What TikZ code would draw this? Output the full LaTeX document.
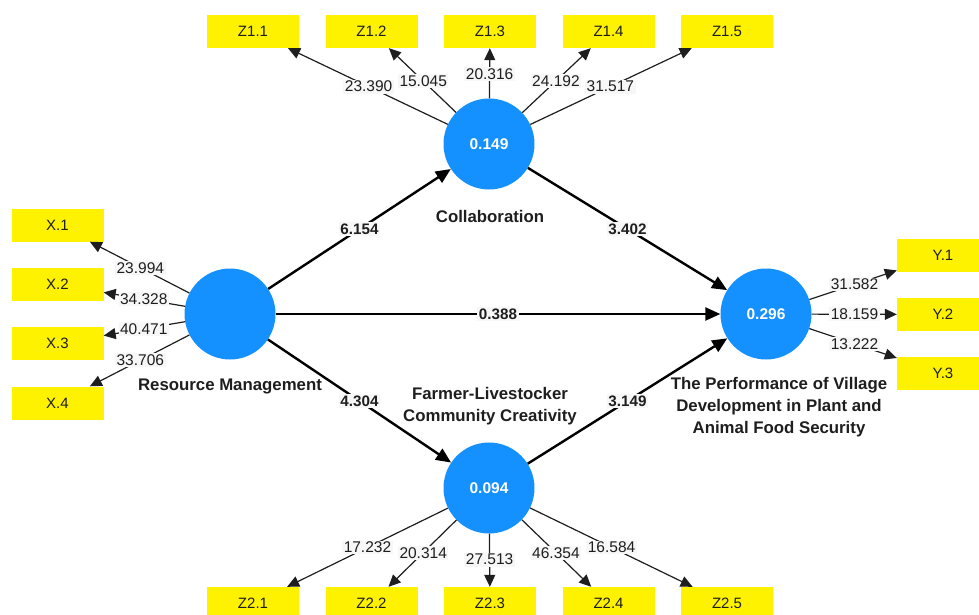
\documentclass[tikz,border=0pt]{standalone}
\usepackage{fontspec}
\setmainfont{Liberation Sans}
\usetikzlibrary{arrows.meta,calc}
\definecolor{plsblue}{RGB}{20,144,255}
\definecolor{labbg}{RGB}{247,247,247}
\definecolor{ink}{RGB}{30,30,30}
\begin{document}
\begin{tikzpicture}[x=1pt,y=-1pt,
  lv/.style={circle,fill=plsblue,minimum size=91pt,inner sep=0pt,text=white,font=\bfseries\fontsize{15.5}{18}\selectfont},
  ind/.style={rectangle,fill=yellow,minimum width=92pt,minimum height=33pt,inner sep=0pt,text=ink,font=\fontsize{15}{18}\selectfont},
  outer/.style={draw=ink,line width=1.2pt,-{Triangle[length=12pt,width=11pt]}},
  inner/.style={draw=black,line width=2.4pt,-{Triangle[length=15pt,width=13pt]}},
  olab/.style={fill=labbg,inner sep=1.5pt,text=ink,font=\fontsize{15.5}{18}\selectfont},
  ilab/.style={fill=labbg,inner sep=1.5pt,text=ink,font=\bfseries\fontsize{15.2}{18}\selectfont},
  lvname/.style={align=center,text=ink,font=\bfseries\fontsize{16.8}{22}\selectfont}]
\useasboundingbox (0,0) rectangle (979,615);
\clip (0,0) rectangle (979,615);

% latent variables
\node[lv] (rm) at (230,314) {};
\node[lv] (coll) at (489,144) {0.149};
\node[lv] (flc) at (489,488) {0.094};
\node[lv] (perf) at (766,314) {0.296};

% names
\node[lvname] (rmname) at (230,386) {Resource Management};
\node[lvname] (collname) at (490,216) {Collaboration};
\node[lvname] (flcname) at (490,406) {Farmer-Livestocker\\Community Creativity};
\node[lvname] (perfname) at (779,407) {The Performance of Village\\Development in Plant and\\Animal Food Security};

% indicators
\node[ind] (x1) at (57.5,225) {X.1};
\node[ind] (x2) at (57.5,284.5) {X.2};
\node[ind] (x3) at (57.5,343.5) {X.3};
\node[ind] (x4) at (57.5,403) {X.4};
\node[ind] (z11) at (253,31.5) {Z1.1};
\node[ind] (z12) at (371.5,31.5) {Z1.2};
\node[ind] (z13) at (490,31.5) {Z1.3};
\node[ind] (z14) at (608.5,31.5) {Z1.4};
\node[ind] (z15) at (727,31.5) {Z1.5};
\node[ind] (z21) at (253,603.5) {Z2.1};
\node[ind] (z22) at (371.5,603.5) {Z2.2};
\node[ind] (z23) at (490,603.5) {Z2.3};
\node[ind] (z24) at (608.5,603.5) {Z2.4};
\node[ind] (z25) at (727,603.5) {Z2.5};
\node[ind] (y1) at (943,255) {Y.1};
\node[ind] (y2) at (943,314.5) {Y.2};
\node[ind] (y3) at (943,373.5) {Y.3};

% outer connectors
\foreach \i in {1,...,4} \draw[outer] (rm) -- (x\i);
\foreach \i in {1,...,5} \draw[outer] (coll) -- (z1\i);
\foreach \i in {1,...,5} \draw[outer] (flc) -- (z2\i);
\foreach \i in {1,...,3} \draw[outer] (perf) -- (y\i);

% outer labels
\node[olab] at ($(rm)!0.52!(x1)$) {23.994};
\node[olab] at ($(rm)!0.5!(x2)$) {34.328};
\node[olab] at ($(rm)!0.5!(x3)$) {40.471};
\node[olab] at ($(rm)!0.52!(x4)$) {33.706};
\node[olab] at ($(coll)!0.51!(z11)$) {23.390};
\node[olab] at ($(coll)!0.56!(z12)$) {15.045};
\node[olab] at ($(coll)!0.62!(z13)$) {20.316};
\node[olab] at ($(coll)!0.56!(z14)$) {24.192};
\node[olab] at ($(coll)!0.51!(z15)$) {31.517};
\node[olab] at ($(flc)!0.515!(z21)$) {17.232};
\node[olab] at ($(flc)!0.56!(z22)$) {20.314};
\node[olab] at ($(flc)!0.62!(z23)$) {27.513};
\node[olab] at ($(flc)!0.56!(z24)$) {46.354};
\node[olab] at ($(flc)!0.515!(z25)$) {16.584};
\node[olab] at ($(perf)!0.5!(y1)$) {31.582};
\node[olab] at ($(perf)!0.5!(y2)$) {18.159};
\node[olab] at ($(perf)!0.5!(y3)$) {13.222};

% structural connectors
\draw[inner] (rm) -- (coll);
\draw[inner] (rm) -- (perf);
\draw[inner] (rm) -- (flc);
\draw[inner] (coll) -- (perf);
\draw[inner] (flc) -- (perf);
\node[ilab] at ($(rm)!0.5!(coll)$) {6.154};
\node[ilab] at ($(rm)!0.5!(perf)$) {0.388};
\node[ilab] at ($(rm)!0.5!(flc)$) {4.304};
\node[ilab] at ($(coll)!0.5!(perf)$) {3.402};
\node[ilab] at ($(flc)!0.5!(perf)$) {3.149};
\end{tikzpicture}
\end{document}
